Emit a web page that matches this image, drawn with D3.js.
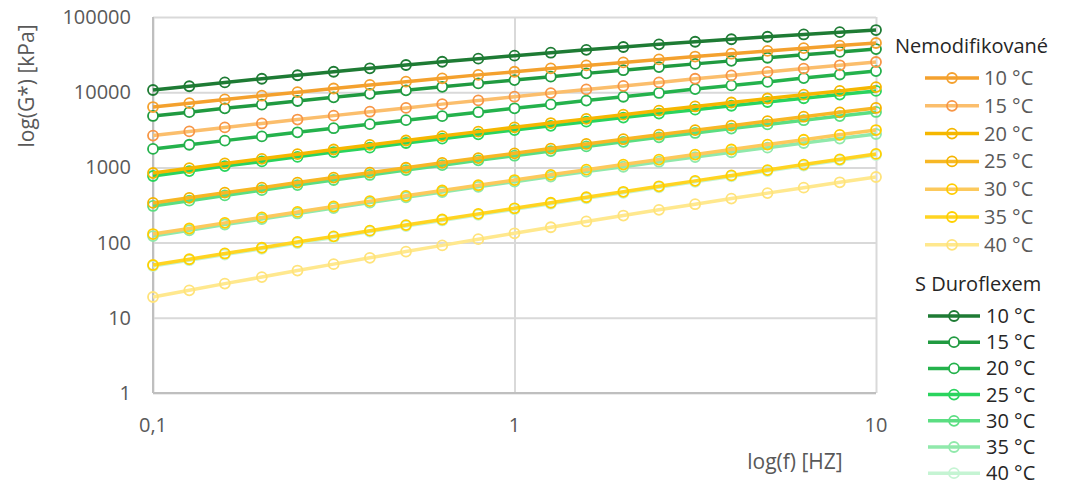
<!DOCTYPE html>
<meta charset="utf-8">
<title>G* vs f</title>
<style>
    body {
        margin: 0;
        background: #fff;
    }

    svg text {
        font-family: "Open Sans", sans-serif;
    }
</style>
<body>
<script src="https://cdnjs.cloudflare.com/ajax/libs/d3/7.8.5/d3.min.js"></script>
<script>
    // frequency [Hz]
    var freq = [0.1, 0.126, 0.158, 0.2, 0.251, 0.316, 0.398, 0.501, 0.631, 0.794, 1,
        1.26, 1.58, 2, 2.51, 3.16, 3.98, 5.01, 6.31, 7.94, 10];

    // Nemodifikované, G* [kPa]
    var n10 = [6350, 7150, 8020, 8980, 10000, 11200, 12500, 13800, 15300, 17000, 18700,
        20700, 22700, 24900, 27300, 29800, 32500, 35400, 38500, 41700, 45100];
    var n15 = [2650, 3010, 3400, 3840, 4330, 4880, 5500, 6180, 6940, 7780, 8710,
        9740, 10900, 12100, 13500, 15100, 16700, 18600, 20600, 22800, 25200];
    var n20 = [843, 977, 1130, 1300, 1500, 1730, 1990, 2280, 2610, 2990, 3410,
        3890, 4420, 5030, 5700, 6460, 7300, 8240, 9280, 10400, 11700];
    var n25 = [337, 394, 461, 538, 628, 732, 851, 989, 1150, 1330, 1540,
        1780, 2050, 2370, 2720, 3130, 3590, 4120, 4720, 5400, 6170];
    var n30 = [130, 154, 183, 216, 256, 302, 356, 419, 493, 579, 679,
        796, 932, 1090, 1270, 1480, 1730, 2010, 2330, 2710, 3140];
    var n35 = [50.4, 60.1, 71.7, 85.4, 102, 121, 144, 171, 203, 241, 286,
        339, 401, 474, 561, 662, 782, 922, 1090, 1280, 1510];
    var n40 = [18.9, 23.2, 28.5, 34.8, 42.5, 51.7, 62.7, 76.0, 91.8, 111, 133,
        160, 191, 229, 273, 324, 385, 455, 538, 634, 745];

    // S Duroflexem, G* [kPa]
    var d10 = [10700, 12000, 13500, 15100, 16800, 18700, 20800, 23000, 25400, 27900, 30600,
        33500, 36600, 39900, 43300, 46900, 50600, 54600, 58600, 62800, 67100];
    var d15 = [4830, 5430, 6100, 6830, 7640, 8540, 9520, 10600, 11800, 13100, 14500,
        16100, 17800, 19600, 21600, 23800, 26100, 28700, 31400, 34300, 37500];
    var d20 = [1760, 2000, 2270, 2580, 2930, 3320, 3760, 4250, 4800, 5420, 6110,
        6880, 7740, 8700, 9770, 11000, 12300, 13700, 15400, 17200, 19100];
    var d25 = [769, 894, 1040, 1200, 1380, 1600, 1830, 2110, 2410, 2750, 3140,
        3570, 4060, 4600, 5200, 5860, 6600, 7410, 8310, 9290, 10400];
    var d30 = [307, 361, 424, 498, 582, 680, 793, 922, 1070, 1240, 1430,
        1650, 1900, 2190, 2510, 2870, 3280, 3730, 4240, 4820, 5460];
    var d35 = [122, 146, 174, 206, 244, 288, 340, 401, 471, 552, 646,
        754, 879, 1020, 1190, 1370, 1590, 1830, 2110, 2420, 2780];
    var d40 = [48.9, 58.3, 69.5, 82.8, 98.6, 117, 140, 166, 197, 234, 277,
        329, 389, 460, 544, 642, 758, 894, 1060, 1240, 1460];

    var labels = ["10 °C", "15 °C", "20 °C", "25 °C", "30 °C", "35 °C", "40 °C"];
    var yTicks = [1, 10, 100, 1000, 10000, 100000];
    var xTicks = [0.1, 1, 10];
    var xTickLabels = ["0,1", "1", "10"];

    var nemod = [
        {name: labels[0], v: n10, line: "#F4A12E", mark: "#F4A12E", fill: "none"},
        {name: labels[1], v: n15, line: "#FBBE6C", mark: "#F79646", fill: "none"},
        {name: labels[2], v: n20, line: "#F5B700", mark: "#F5B700", fill: "none"},
        {name: labels[3], v: n25, line: "#F7B725", mark: "#F5B400", fill: "none"},
        {name: labels[4], v: n30, line: "#FCC95C", mark: "#FFCC00", fill: "none"},
        {name: labels[5], v: n35, line: "#FFD422", mark: "#FFD000", fill: "none"},
        {name: labels[6], v: n40, line: "#FFE88E", mark: "#FFE37A", fill: "none"}
    ];
    var duro = [
        {name: labels[0], v: d10, line: "#1E7B34", mark: "#1E7B34", fill: "none"},
        {name: labels[1], v: d15, line: "#209A40", mark: "#209A40", fill: "#fff"},
        {name: labels[2], v: d20, line: "#24B24C", mark: "#24B24C", fill: "#fff"},
        {name: labels[3], v: d25, line: "#2AD45E", mark: "#2AD45E", fill: "none"},
        {name: labels[4], v: d30, line: "#5BDE82", mark: "#5BDE82", fill: "none"},
        {name: labels[5], v: d35, line: "#90E9AB", mark: "#90E9AB", fill: "none"},
        {name: labels[6], v: d40, line: "#C5F4D3", mark: "#C5F4D3", fill: "none"}
    ];

    var W = 1068, H = 486;
    var L = 153, R = 876, T = 17, B = 393;

    var x = d3.scaleLog().domain([0.1, 10]).range([L, R]);
    var y = d3.scaleLog().domain([1, 100000]).range([B, T]);

    var svg = d3.select("body").append("svg")
        .attr("width", W)
        .attr("height", H);

    // grid
    svg.append("g")
        .attr("transform", "translate(" + L + ",0)")
        .call(d3.axisLeft(y).tickValues(yTicks).tickSize(-(R - L)).tickFormat(""))
        .call(function (g) {
            g.select(".domain").remove();
            g.selectAll("line").attr("stroke", "#D9D9D9").attr("stroke-width", 2);
        });
    svg.append("g")
        .attr("transform", "translate(0," + B + ")")
        .call(d3.axisBottom(x).tickValues(xTicks).tickSize(-(B - T)).tickFormat(""))
        .call(function (g) {
            g.select(".domain").remove();
            g.selectAll("line").attr("stroke", "#D9D9D9").attr("stroke-width", 2);
        });

    // axis lines
    svg.append("line").attr("x1", L).attr("x2", L).attr("y1", T).attr("y2", B)
        .attr("stroke", "#BFBFBF").attr("stroke-width", 2);
    svg.append("line").attr("x1", L).attr("x2", R).attr("y1", B).attr("y2", B)
        .attr("stroke", "#BFBFBF").attr("stroke-width", 2);

    // tick labels
    svg.selectAll(".ylab")
        .data(yTicks)
        .enter()
        .append("text")
        .attr("x", 131)
        .attr("y", function (d) { return y(d); })
        .attr("dy", "0.35em")
        .attr("text-anchor", "end")
        .attr("font-size", 20)
        .attr("fill", "#595959")
        .text(function (d) { return d; });

    svg.selectAll(".xlab")
        .data(xTicks)
        .enter()
        .append("text")
        .attr("x", function (d) { return x(d); })
        .attr("y", 425)
        .attr("dy", "0.35em")
        .attr("text-anchor", "middle")
        .attr("font-size", 20)
        .attr("fill", "#595959")
        .text(function (d, i) { return xTickLabels[i]; });

    // axis titles
    svg.append("text")
        .attr("transform", "translate(27,86) rotate(-90)")
        .attr("dy", "0.35em")
        .attr("text-anchor", "middle")
        .attr("font-size", 21)
        .attr("fill", "#595959")
        .text("log(G*) [kPa]");
    svg.append("text")
        .attr("x", 795)
        .attr("y", 462)
        .attr("dy", "0.35em")
        .attr("text-anchor", "middle")
        .attr("font-size", 21)
        .attr("fill", "#595959")
        .text("log(f) [HZ]");

    // series
    var line = d3.line()
        .x(function (d, i) { return x(freq[i]); })
        .y(function (d) { return y(d); });

    function drawSeries(s) {
        var g = svg.append("g");
        g.append("path")
            .attr("d", line(s.v))
            .attr("fill", "none")
            .attr("stroke", s.line)
            .attr("stroke-width", 3.5);
        g.selectAll("circle")
            .data(s.v)
            .enter()
            .append("circle")
            .attr("cx", function (d, i) { return x(freq[i]); })
            .attr("cy", function (d) { return y(d); })
            .attr("r", 5)
            .attr("fill", s.fill)
            .attr("stroke", s.mark)
            .attr("stroke-width", 1.8);
    }

    duro.slice().reverse().forEach(drawSeries);
    nemod.slice().reverse().forEach(drawSeries);

    // legends
    function legend(title, tx, ty, list, x0, x1, xm, xt, y0, dy, col) {
        svg.append("text")
            .attr("x", tx)
            .attr("y", ty)
            .attr("dy", "0.35em")
            .attr("font-size", 20)
            .attr("fill", "#262626")
            .text(title);
        list.forEach(function (s, i) {
            var yy = y0 + i * dy;
            svg.append("line")
                .attr("x1", x0).attr("x2", x1).attr("y1", yy).attr("y2", yy)
                .attr("stroke", s.line).attr("stroke-width", 3.5);
            svg.append("circle")
                .attr("cx", xm).attr("cy", yy).attr("r", 5)
                .attr("fill", s.fill).attr("stroke", s.mark).attr("stroke-width", 1.8);
            svg.append("text")
                .attr("x", xt)
                .attr("y", yy)
                .attr("dy", "0.35em")
                .attr("font-size", 20)
                .attr("fill", col)
                .text(s.name);
        });
    }

    legend("Nemodifikované", 895, 46, nemod, 925, 979, 952, 984, 78, 27.8, "#595959");
    legend("S Duroflexem", 915, 284, duro, 928, 980, 954, 986, 316, 26.2, "#262626");
</script>
</body>
